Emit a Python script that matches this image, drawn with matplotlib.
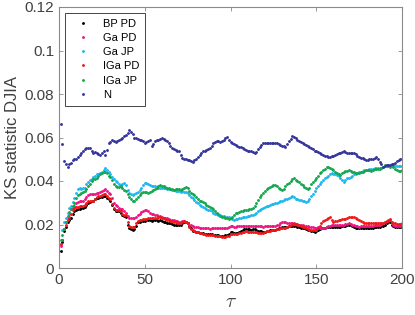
import matplotlib
matplotlib.use('Agg')
import matplotlib.pyplot as plt
import numpy as np

# KS statistic (in units of 1e-3) for tau = 1..200
tau = np.arange(1, 201)

bp_pd = [8, 12, 17, 19, 21, 22, 23, 25, 26, 26.5, 27, 27, 27.5, 27.7, 28, 29, 30, 30.5, 31, 31,
	31.5, 32, 32, 32.5, 32.5, 33, 33, 32, 31.5, 31, 29, 27, 26, 26, 26, 25.5, 24.5, 24, 23.5, 20,
	18.5, 18, 17.5, 18, 19.5, 21, 21.3, 21.5, 21.5, 21.5, 22, 22, 22, 21.5, 22, 22, 22, 21.8, 22, 21.5,
	21, 21, 20.8, 20.7, 20.5, 20.3, 20, 19.8, 19.8, 19.7, 20, 20.5, 21, 21, 20.5, 19.5, 18.5, 17, 17, 16.5,
	16.5, 16, 16, 16, 15.8, 15.6, 15.5, 15.6, 15.5, 15.3, 15, 15, 15, 14.8, 14.7, 14.7, 15, 15.2, 15.5, 16.5,
	16.7, 16.2, 16, 16.3, 16.7, 17, 17.5, 17.8, 18, 18, 17.8, 17.7, 17.8, 17.8, 17.5, 17.2, 17, 16.8, 16.7, 16.7,
	17, 17.2, 17.3, 17.5, 17.6, 17.5, 17.8, 18.2, 18.5, 18.7, 18.7, 18.8, 19, 19.2, 19.3, 19.3, 19.3, 19.2, 19, 18.7,
	18.4, 18.2, 18.2, 18, 17.7, 17.5, 17, 16.8, 16.7, 17, 17.5, 18, 18.2, 18.5, 18.5, 18.7, 18.8, 19, 19, 18.8,
	18.9, 19, 19, 19, 19.2, 19.3, 19.5, 19.7, 19.8, 19.8, 19.5, 19, 18.5, 18.3, 18.2, 18.3, 18.2, 18.2, 18.3, 18.5,
	18.5, 18.3, 18.5, 18.7, 19, 19, 19, 19.2, 19.5, 20, 20.5, 21, 21.3, 20, 19.5, 19, 19, 18.8, 18.7, 18.7]

ga_pd = [10, 13, 18, 21, 23, 25, 27, 27.5, 28.5, 30, 30.5, 31, 31, 31, 31.5, 32.5, 33.5, 34, 34, 34,
	34, 34.5, 34.5, 35, 35.5, 36, 36.2, 35.5, 34.5, 34, 32, 30, 29, 28.5, 27.5, 27.2, 27, 26, 25.5, 24,
	23, 22.8, 22.8, 23, 23.5, 24.2, 25, 25.8, 26.2, 26.5, 26.7, 26, 25.5, 25, 24.8, 24.5, 24.2, 24, 23.8, 23.5,
	23.2, 23, 22.8, 22.5, 22.2, 22, 22, 21.8, 21.5, 21.3, 21.3, 21.5, 21.5, 21.3, 20.7, 20, 19.7, 19.5, 19, 18.8,
	18.8, 18.5, 18.5, 18.5, 18.3, 18.3, 18.2, 18, 18.2, 18.5, 18.5, 18.3, 18.2, 18.2, 18.3, 18.2, 18.3, 18.5, 19, 19.5,
	19.3, 19, 19, 19.2, 19.3, 19.3, 19.3, 19.5, 19.3, 19.3, 19.2, 19.3, 19.5, 19.3, 19.2, 19.3, 19.2, 19.2, 19, 19.2,
	19.3, 19.5, 19.5, 19.3, 19.3, 19.5, 19.7, 20, 20.5, 21, 21.3, 21, 20.7, 20.5, 20.5, 20.5, 20.3, 20.3, 20.2, 20,
	19.8, 19.8, 19.5, 19.3, 19.2, 19, 19, 18.8, 18.5, 18.5, 18.8, 18.5, 18.3, 18.3, 18.5, 18.8, 19.2, 19.5, 19.8, 19.7,
	19.8, 19.8, 19.7, 19.7, 19.8, 20, 20.2, 20.3, 20.5, 20.3, 20, 19.7, 19.5, 19.3, 19, 19.2, 19.3, 19.5, 19.5, 19.5,
	19.5, 19.3, 19.5, 19.7, 19.8, 20, 20, 20.2, 20.5, 21, 21.5, 22, 22.2, 20.5, 20, 19.5, 19.3, 19.2, 19.3, 19.5]

ga_jp = [11, 17.5, 21, 23, 25.5, 27.5, 28.5, 30.5, 32, 34.5, 36.5, 36.8, 36.5, 36.7, 37, 38.5, 39.7, 40.5, 41, 42,
	42.5, 43, 43.3, 43.5, 44, 45, 45.8, 45, 44, 43, 42, 41, 40, 39.5, 38.5, 38, 38.5, 39, 38, 36,
	34.5, 34, 33.6, 34, 34.5, 35, 36, 37, 38, 39, 39, 38.5, 38, 37.8, 37.5, 37.5, 37.2, 37, 36.8, 36.8,
	36.7, 36.8, 36.5, 36.3, 36.2, 36, 35.8, 35.5, 35.3, 35.2, 35, 35.2, 35, 34.8, 34.3, 33.5, 32.8, 32, 31.2, 30.5,
	29.8, 29.1, 28.5, 28, 27.5, 27, 26.8, 26.5, 26, 25.5, 25, 24.6, 24.3, 24.2, 24, 23.8, 23.6, 23.5, 23.3, 23,
	22.5, 22.2, 22.3, 22.5, 22.8, 23.2, 23.5, 23.5, 23.6, 23.8, 24, 24.2, 24.5, 24.8, 25.3, 26, 26.5, 27, 27.5, 28,
	28.3, 28.5, 28.8, 29.2, 29.5, 29.7, 30, 30.3, 30.6, 31, 31.2, 31.5, 31.8, 32.3, 32.8, 33, 32.5, 31.8, 31.5, 31.3,
	31.2, 31, 30.7, 30.5, 31, 31.8, 33, 34.2, 35.5, 36.6, 37.5, 38.5, 39.5, 40.5, 41.2, 42, 42.5, 43, 43.5, 43.3,
	43, 42.8, 42.2, 41.5, 40.5, 39.7, 40.5, 41.2, 41.5, 42, 42.5, 43, 43.3, 43.5, 44, 44.3, 44.5, 45, 45.2, 45,
	45.3, 45.5, 45.7, 45.8, 46, 46, 46.2, 46.2, 46.5, 46.8, 47, 47.2, 47.4, 47.2, 47, 47, 46.8, 46.7, 46.8, 47]

iga_pd = [11, 13, 18, 20, 22, 23.5, 25, 26.5, 27.5, 28, 28.2, 28.5, 28.5, 28.5, 29, 30, 30.8, 31, 31, 31,
	31.5, 32.5, 33, 33, 33.5, 34, 34, 33, 32, 31.5, 29.5, 27.5, 26.5, 26.5, 26.5, 26, 25, 24.5, 24.2, 21,
	19.5, 19, 18.7, 19, 20.5, 21.5, 22, 22.2, 22.3, 22.3, 22.5, 22.8, 23, 22.8, 23, 23, 23.2, 23.3, 23.5, 23,
	22.8, 22.5, 22.2, 22, 21.8, 21.5, 21.3, 21, 20.8, 20.7, 20.8, 21.2, 21.5, 21.2, 20.5, 19, 18, 17.5, 17, 16.7,
	16.5, 16.2, 16, 15.8, 15.5, 15.3, 15.2, 15.2, 15.1, 15, 14.8, 14.7, 14.6, 14.5, 14.3, 14.2, 14.3, 14.5, 14.8, 15.5,
	15.8, 15.7, 15.5, 15.7, 16, 16.3, 16.5, 16.7, 16.8, 16.7, 16.5, 16.5, 16.7, 16.7, 16.5, 16.3, 16.2, 16.2, 16.3, 16.5,
	16.8, 17, 17.2, 17.3, 17.5, 17.5, 17.8, 18, 18.2, 18.2, 18.3, 18.5, 18.8, 19.2, 19.8, 20.3, 20.5, 20.3, 20, 19.7,
	19.3, 19, 18.8, 18.5, 18, 17.5, 17.3, 17.5, 17.3, 17.5, 18.5, 19.5, 20.5, 21.5, 22, 22.3, 23, 23.5, 22, 21.3,
	21.5, 21.8, 22, 22, 22.3, 22.5, 22.7, 23, 23.3, 23.5, 23.5, 23.3, 23, 22.5, 22, 21.5, 21, 20.7, 20.7, 20.5,
	20.5, 20.7, 20.7, 20.5, 20.5, 20.7, 20.7, 20.5, 20.8, 21.2, 21.5, 21.8, 22.3, 21, 20.7, 20.5, 20.3, 20.2, 20.3, 20.5]

iga_jp = [13, 15, 18, 21, 24, 25.7, 27, 28.5, 30, 32, 33.5, 34, 34.5, 35, 35.5, 36.5, 37.5, 38.5, 40, 40.8,
	41, 41.5, 42.5, 43, 43.5, 44, 44.3, 43.5, 42.5, 42, 40.5, 38.5, 37.5, 37.4, 37.3, 37.5, 37, 36, 35.5, 34,
	32.5, 31.5, 31, 31, 31.5, 32.5, 33.5, 34.5, 35, 35, 34.8, 34.5, 35, 35.5, 36, 36.5, 37, 37.5, 38, 37.8,
	37.5, 37.3, 37, 36.7, 36.5, 36.3, 36, 36.3, 36.5, 36.2, 36, 36.3, 36.8, 37.2, 36.8, 35.5, 34.5, 34, 33.5, 32.5,
	31.5, 31, 30.7, 30.3, 29.7, 29, 28.5, 28, 27.4, 27, 26.3, 25.5, 24.8, 24, 23.6, 23.3, 23, 22.8, 22.4, 22.8,
	23.5, 24.5, 25.3, 25.5, 25.8, 26, 26.3, 26.5, 26.7, 26.8, 27, 27.2, 27.5, 28.5, 30, 31.3, 32.5, 33.6, 34.5, 35.5,
	36.3, 36.8, 37.3, 37.8, 38.2, 38, 37.5, 37, 36.3, 35.9, 36.5, 37.5, 38.5, 39.2, 40, 40.8, 41.2, 40.5, 40, 39.5,
	38.8, 38, 37.3, 36.8, 36.5, 37, 38.5, 39.7, 40.5, 41.5, 42.5, 43.5, 44.2, 45, 45.7, 46.4, 46.6, 46, 45.5, 45,
	44.2, 43.8, 43.2, 42.8, 43.5, 44.1, 44.5, 44.8, 45, 44.8, 44.3, 44, 43.8, 43.6, 43.8, 44, 44.2, 44.5, 45, 45.2,
	45, 44.8, 45, 45.3, 45.5, 45.3, 45.5, 46, 46.5, 47.2, 47.4, 47, 46.5, 47.3, 46.5, 45.5, 45, 44.5, 44.8, 45]

normal = [66, 57, 49, 48, 46.6, 48, 48.5, 49.5, 50, 50.2, 51, 52, 53, 54, 54.5, 55, 55, 55.2, 54, 53,
	53.5, 52.7, 52.5, 52, 53, 53.7, 52, 54.3, 57.3, 58, 58.9, 58.5, 58, 58.5, 59, 59.5, 60, 60.5, 61.1, 62,
	63.4, 62.5, 61.7, 60, 59.6, 59.3, 59, 58.7, 58.5, 57.6, 58, 58.5, 59, 56, 57, 58.4, 58.7, 59, 59.3, 59.6,
	59.3, 59, 58.2, 57.3, 56, 55, 54.7, 54.3, 54, 53.6, 52, 50.4, 50.2, 50, 49.8, 49.7, 49.3, 48.9, 49.5, 50,
	51, 52, 53, 53.6, 54, 54.3, 54.7, 55, 56, 57.3, 58, 58.5, 58.2, 58, 58.5, 59, 59.7, 60.4, 59, 58,
	57.3, 57, 56.5, 56.2, 55.8, 55.5, 55.2, 54.8, 54.3, 54, 53.8, 53.6, 53.3, 53, 53.5, 54.5, 55.5, 56.5, 57.3, 57.5,
	57.6, 57.6, 57.5, 57.6, 57.7, 57.5, 57.6, 57, 56.5, 56.2, 56, 55.8, 57, 58.5, 59.5, 60.7, 60.3, 59.6, 59, 58.5,
	58, 57.5, 57, 56.5, 56, 55.5, 55, 54.5, 54, 53.6, 53.2, 52.8, 52.4, 52, 51.5, 51.3, 51.2, 51, 51.3, 51.7,
	52, 52.4, 52.7, 53, 53.5, 54, 53.5, 53, 52.7, 52.8, 53, 53, 52.3, 51.5, 51, 50.6, 50.4, 50.2, 49.8, 49.7,
	49.9, 50, 50.3, 50.7, 51, 50.2, 48.9, 47.8, 46.6, 47, 47.4, 47.5, 47.4, 47.8, 48, 48.5, 49, 49.5, 50, 50]

labels = ['BP PD', 'Ga PD', 'Ga JP', 'IGa PD', 'IGa JP', 'N']
colors = ['#000000', '#ee1685', '#1db8f0', '#f01818', '#14a650', '#34349c']
series = [bp_pd, ga_pd, ga_jp, iga_pd, iga_jp, normal]

plt.rcParams['font.family'] = ['Liberation Sans', 'DejaVu Sans']
plt.rcParams['mathtext.fontset'] = 'cm'

fig = plt.figure(figsize=(4.15, 3.15), dpi=100)
ax = fig.add_axes([59/415, 1-268/315, 343/415, 261/315])

for (vals, col, lab) in zip(series, colors, labels):
	ax.plot(tau, np.array(vals)/1000.0, '.', color=col, markersize=2.1, label=lab, linestyle='none')

ax.set_xlim(0, 200)
ax.set_ylim(0, 0.12)
ax.set_xticks([0, 50, 100, 150, 200])
ax.set_yticks([0, 0.02, 0.04, 0.06, 0.08, 0.1, 0.12])
ax.set_yticklabels(['0', '0.02', '0.04', '0.06', '0.08', '0.1', '0.12'])
ax.tick_params(direction='in', length=3, width=0.6, colors='#8a8a8a', labelcolor='#404040',
	labelsize=11, top=True, right=True, labeltop=False, labelright=False)
for sp in ax.spines.values():
	sp.set_color('#8a8a8a')
	sp.set_linewidth(0.8)

ax.set_ylabel('KS statistic DJIA', fontsize=12, color='#404040', labelpad=3)
ax.set_xlabel(r'$\tau$', fontsize=14, color='#404040', labelpad=5)

leg = ax.legend(loc='upper left', fontsize=8, frameon=True, fancybox=False, framealpha=1,
	edgecolor='#262626', borderpad=0.55, labelspacing=0.38, handlelength=2.2,
	handletextpad=0.7, borderaxespad=0.5, markerscale=1.0)
leg.get_frame().set_linewidth(0.6)

plt.savefig('out.png', dpi=100)
